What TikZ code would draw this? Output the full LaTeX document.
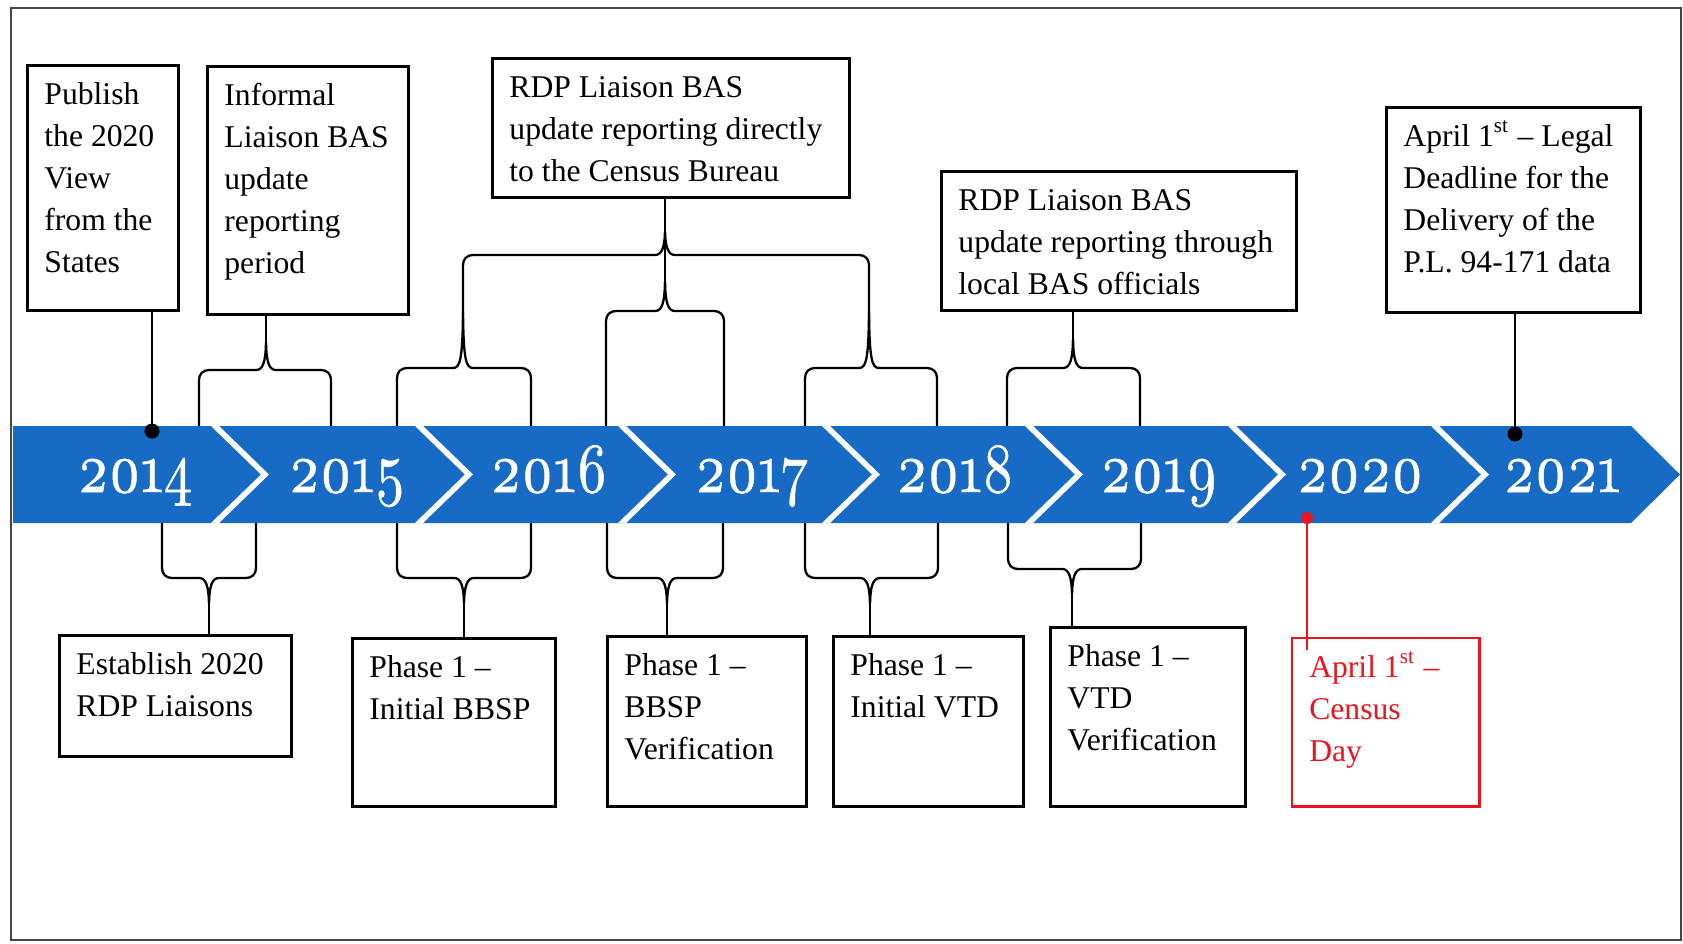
\documentclass[tikz,border=0pt]{standalone}
\usepackage{fontspec}
\setmainfont{Liberation Serif}
\newfontfamily\yearfont[Numbers=OldStyle,FakeBold=0.8]{lmroman10-regular.otf}
\usepackage{graphicx}
\definecolor{bandblue}{RGB}{23,107,196}
\definecolor{framegray}{RGB}{70,70,70}
\definecolor{cred}{RGB}{235,20,30}
\tikzset{
  box/.style={draw=black, line width=0.8pt, anchor=north west, inner xsep=0.17cm, inner ysep=0.095cm, fill=white,
    font=\fontsize{9}{11.95}\selectfont},
  redbox/.style={box, draw=cred, line width=0.7pt, text=cred},
  conn/.style={line width=0.6pt},
  brc/.style={line width=0.65pt},
  year/.style={text=white, anchor=base, inner sep=0pt, font=\yearfont\fontsize{20}{20}\selectfont},
  gap/.style={fill=white, draw=none},
  dot/.style={fill=black},
}
% one text line, full width of the box
\newcommand{\tl}[1]{\hbox to\hsize{#1\hfil}}
% box content: width (cm), height (cm), lines
\newcommand{\bt}[3]{\parbox[t][\dimexpr#2cm-0.19cm\relax][t]{\dimexpr#1cm-0.34cm\relax}{#3}}
% brace: xL, xR, xm, y at sides end, y of horizontal, y of tip, sign
\newcommand{\brc}[7]{%
  \draw[brc] (#1,#4) -- (#1,{#5+(#7)*10}) .. controls (#1,{#5+(#7)*4}) and ({#1+4},#5) .. ({#1+10},#5)
     -- ({#3-10},#5) .. controls ({#3-3},#5) and ({#3-0.5},{#5-(#7)*8}) .. (#3,#6);
  \draw[brc] (#2,#4) -- (#2,{#5+(#7)*10}) .. controls (#2,{#5+(#7)*4}) and ({#2-4},#5) .. ({#2-10},#5)
     -- ({#3+10},#5) .. controls ({#3+3},#5) and ({#3+0.5},{#5-(#7)*8}) .. (#3,#6);
}
\newcommand{\gapat}[1]{%
  \fill[gap] ({#1-4},426) -- ({#1+4},426) -- ({#1+54},474.5) -- ({#1+4},523) -- ({#1-4},523) -- ({#1+46},474.5) -- cycle;
}
\begin{document}
\begin{tikzpicture}[x=0.01cm, y=-0.01cm]
\useasboundingbox (0,0) rectangle (1683,943);
\draw[framegray, line width=0.7pt] (11,8) rectangle (1681,940);

% named tip coordinates
\coordinate (dA) at (152,431);
\coordinate (dB) at (1515,434);
\coordinate (dR) at (1307,518);
\coordinate (rEnd) at (1307,650);
\coordinate (tA) at (266,343);
\coordinate (T) at (665,232);
\coordinate (tB) at (463,312);
\coordinate (tC) at (665,282);
\coordinate (tD) at (869,312);
\coordinate (tE) at (1073,340);
\coordinate (tF) at (209,603);
\coordinate (tG) at (464,603);
\coordinate (tH) at (667,603);
\coordinate (tI) at (870,603);
\coordinate (tJ) at (1072,594);

% braces above the band
\brc{199}{331}{266}{426}{370}{343}{1}
\brc{397}{531}{463}{426}{368}{312}{1}
\brc{606}{724}{665}{426}{311}{282}{1}
\brc{805}{937}{869}{426}{368}{312}{1}
\brc{1007}{1140}{1073}{426}{368}{340}{1}
\brc{463}{869}{665}{312}{255}{232}{1}
\draw[conn] (tC) -- (T);
% braces below the band
\brc{162}{256}{209}{523}{578}{603}{-1}
\brc{397}{531}{464}{523}{578}{603}{-1}
\brc{607}{723}{667}{523}{578}{603}{-1}
\brc{805}{938}{870}{523}{578}{603}{-1}
\brc{1008}{1141}{1072}{523}{569}{594}{-1}

% band
\fill[bandblue] (13,426) -- (1631,426) -- (1680,474.5) -- (1631,523) -- (13,523) -- cycle;
\gapat{215}\gapat{419}\gapat{622}\gapat{826}\gapat{1029}\gapat{1232}\gapat{1435}

\node[year] (y14) at (135,492) {\scalebox{0.8}[1]{2014}};
\node[year] (y15) at (347,492) {\scalebox{0.8}[1]{2015}};
\node[year] (y16) at (549,492) {\scalebox{0.8}[1]{2016}};
\node[year] (y17) at (752,492) {\scalebox{0.8}[1]{2017}};
\node[year] (y18) at (955,492) {\scalebox{0.8}[1]{2018}};
\node[year] (y19) at (1159,492) {\scalebox{0.8}[1]{2019}};
\node[year] (y20) at (1360,492) {\scalebox{0.8}[1]{2020}};
\node[year] (y21) at (1562,492) {\scalebox{0.8}[1]{2021}};

% top boxes
\node[box] (pub) at (26,64) {\bt{1.51}{2.45}{\tl{\strut Publish}\tl{the 2020}\tl{View}\tl{from the}\tl{States}}};
\node[box] (inf) at (206,65) {\bt{2.01}{2.48}{\tl{\strut Informal}\tl{Liaison BAS}\tl{update}\tl{reporting}\tl{period}}};
\node[box] (rdpd) at (491,57) {\bt{3.57}{1.39}{\tl{\strut RDP Liaison BAS}\tl{update reporting directly}\tl{to the Census Bureau}}};
\node[box] (rdpl) at (940,170) {\bt{3.55}{1.39}{\tl{\strut RDP Liaison BAS}\tl{update reporting through}\tl{local BAS officials}}};
\node[box] (leg) at (1385,106) {\bt{2.54}{2.05}{\tl{\strut April 1\textsuperscript{st} -- Legal}\tl{Deadline for the}\tl{Delivery of the}\tl{P.L. 94-171 data}}};

% bottom boxes
\node[box] (est) at (58,634) {\bt{2.32}{1.21}{\tl{\strut Establish 2020}\tl{RDP Liaisons}}};
\node[box] (ibbsp) at (351,637) {\bt{2.03}{1.68}{\tl{\strut Phase 1 --}\tl{Initial BBSP}}};
\node[box] (vbbsp) at (606,635) {\bt{1.99}{1.70}{\tl{\strut Phase 1 --}\tl{BBSP}\tl{Verification}}};
\node[box] (ivtd) at (832,635) {\bt{1.90}{1.70}{\tl{\strut Phase 1 --}\tl{Initial VTD}}};
\node[box] (vvtd) at (1049,626) {\bt{1.95}{1.79}{\tl{\strut Phase 1 --}\tl{VTD}\tl{Verification}}};
\node[redbox] (cen) at (1291,637) {\bt{1.87}{1.68}{\tl{\strut April 1\textsuperscript{st} --}\tl{Census}\tl{Day}}};

% connectors
\draw[conn] (dA |- pub.south) -- (dA);
\draw[conn] (dB |- leg.south) -- (dB);
\draw[conn] (tA |- inf.south) -- (tA);
\draw[conn] (T |- rdpd.south) -- (T);
\draw[conn] (tE |- rdpl.south) -- (tE);
\draw[conn] (tF) -- (tF |- est.north);
\draw[conn] (tG) -- (tG |- ibbsp.north);
\draw[conn] (tH) -- (tH |- vbbsp.north);
\draw[conn] (tI) -- (tI |- ivtd.north);
\draw[conn] (tJ) -- (tJ |- vvtd.north);
\draw[cred, line width=0.6pt] (dR) -- (rEnd);

% dots
\fill[dot] (dA) circle[radius=0.075cm];
\fill[dot] (dB) circle[radius=0.075cm];
\fill[cred] (dR) circle[radius=0.06cm];
\end{tikzpicture}
\end{document}
